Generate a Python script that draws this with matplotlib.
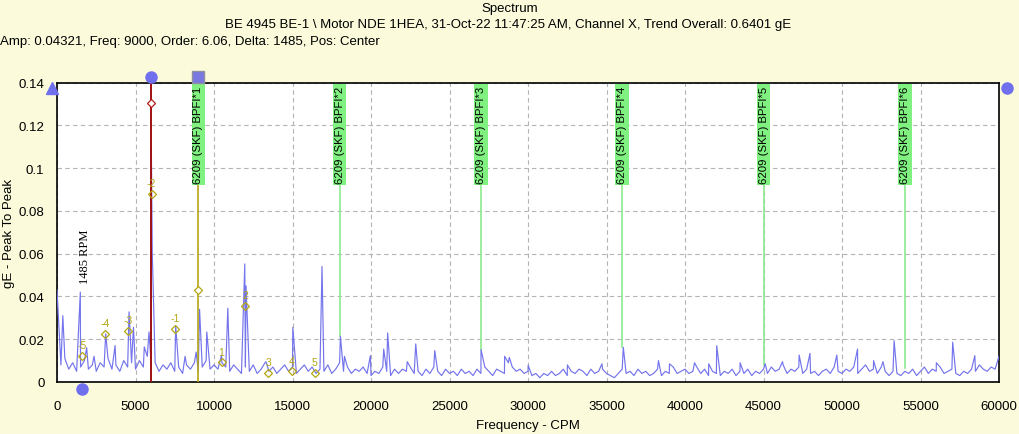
import numpy as np
import matplotlib
matplotlib.use("Agg")
import matplotlib.pyplot as plt

plt.rcParams['font.family'] = ['Liberation Sans', 'DejaVu Sans']

# textos do cabecalho
titulo = "Spectrum"
subtitulo = "BE 4945 BE-1 \\ Motor NDE 1HEA, 31-Oct-22 11:47:25 AM, Channel X, Trend Overall: 0.6401 gE"
cursor_info = "Amp: 0.04321, Freq: 9000, Order: 6.06, Delta: 1485, Pos: Center"

# piso de ruido do espectro, um valor a cada 250 CPM (0 ... 60000)
passo_piso = 250
piso_amp = [
    0.043, 0.008, 0.011, 0.006, 0.009, 0.005, 0.007, 0.010, 0.006, 0.008, 0.005, 0.009, 0.007, 0.011, 0.006, 0.008, 0.005, 0.010, 0.007, 0.009,
    0.006, 0.010, 0.007, 0.012, 0.008, 0.009, 0.005, 0.008, 0.006, 0.009, 0.005, 0.007, 0.004, 0.008, 0.006, 0.009, 0.005, 0.007, 0.010, 0.006,
    0.008, 0.006, 0.009, 0.007, 0.005, 0.008, 0.006, 0.004, 0.007, 0.005, 0.008, 0.004, 0.006, 0.009, 0.005, 0.007, 0.004, 0.006, 0.008, 0.005,
    0.007, 0.004, 0.006, 0.008, 0.005, 0.007, 0.004, 0.006, 0.005, 0.008, 0.004, 0.006, 0.009, 0.005, 0.007, 0.004, 0.006, 0.005, 0.007, 0.004,
    0.003, 0.005, 0.004, 0.007, 0.005, 0.003, 0.006, 0.004, 0.006, 0.005, 0.007, 0.004, 0.005, 0.003, 0.006, 0.004, 0.007, 0.005, 0.003, 0.006,
    0.004, 0.005, 0.003, 0.006, 0.004, 0.005, 0.003, 0.006, 0.004, 0.007, 0.005, 0.003, 0.006, 0.005, 0.004, 0.009, 0.007, 0.005, 0.006, 0.004,
    0.005, 0.003, 0.004, 0.002, 0.004, 0.003, 0.005, 0.003, 0.004, 0.006, 0.003, 0.005, 0.004, 0.006, 0.005, 0.003, 0.006, 0.004, 0.005, 0.006,
    0.004, 0.003, 0.002, 0.004, 0.006, 0.004, 0.005, 0.003, 0.006, 0.004, 0.005, 0.003, 0.004, 0.006, 0.003, 0.005, 0.004, 0.007, 0.004, 0.005,
    0.006, 0.004, 0.005, 0.007, 0.004, 0.006, 0.003, 0.005, 0.004, 0.003, 0.005, 0.004, 0.006, 0.003, 0.005, 0.004, 0.006, 0.003, 0.005, 0.004,
    0.006, 0.004, 0.007, 0.005, 0.006, 0.008, 0.004, 0.006, 0.005, 0.007, 0.004, 0.006, 0.004, 0.005, 0.003, 0.005, 0.006, 0.004, 0.007, 0.005,
    0.004, 0.006, 0.005, 0.007, 0.004, 0.006, 0.008, 0.005, 0.006, 0.004, 0.007, 0.005, 0.003, 0.005, 0.004, 0.003, 0.005, 0.004, 0.006, 0.003,
    0.005, 0.007, 0.004, 0.006, 0.005, 0.007, 0.004, 0.005, 0.006, 0.004, 0.003, 0.005, 0.004, 0.006, 0.005, 0.008, 0.006, 0.005, 0.007, 0.006,
    0.012,
]

# picos (CPM, gE)
pico_freq = [120, 370, 1485, 1890, 2360, 3100, 3700, 4590, 4870, 5560, 5860, 6010, 6070,
             7560, 8160, 8860, 9080, 9540, 10480, 10880, 11960, 12040, 13310, 15020, 16880,
             18050, 18310, 19960, 20810, 21060, 22310, 22850, 24060, 27010, 28510, 28810,
             30010, 32510, 34710, 36070, 38310, 39010, 40610, 41510, 42020, 43510, 45110,
             46210, 47270, 47960, 49670, 50990, 52010, 52610, 53320, 56010, 57050, 58460]
pico_amp = [0.026, 0.031, 0.042, 0.016, 0.012, 0.0225, 0.017, 0.0328, 0.0256, 0.0164, 0.0234, 0.109, 0.060,
            0.0262, 0.012, 0.014, 0.034, 0.0234, 0.0125, 0.0345, 0.0552, 0.045, 0.0095, 0.0255, 0.054,
            0.0214, 0.012, 0.0123, 0.0154, 0.0229, 0.0095, 0.0178, 0.0147, 0.0151, 0.012, 0.0115,
            0.0078, 0.008, 0.0085, 0.0162, 0.010, 0.0085, 0.009, 0.0085, 0.017, 0.009, 0.0085,
            0.0095, 0.0126, 0.0134, 0.0126, 0.0154, 0.010, 0.0095, 0.0193, 0.009, 0.0186, 0.0123]

# bandas laterais de 9000 com delta 1485
banda_rotulo = ["-5", "-4", "-3", "-2", "-1", "1", "2", "3", "4", "5"]
banda_freq = [1575, 3060, 4545, 6030, 7515, 10485, 11970, 13455, 14940, 16425]
banda_amp = [0.0123, 0.0226, 0.024, 0.088, 0.025, 0.0092, 0.0357, 0.0042, 0.0051, 0.0042]

# harmonicas de BPFI do rolamento 6209
bpfi_ordem = [1, 2, 3, 4, 5, 6]
bpfi_freq = [9000, 18000, 27000, 36000, 45000, 54000]
bpfi_amp = [0.043, 0.0214, 0.0151, 0.0162, 0.008, 0.0065]

cursor_vermelho = 6000
cursor_vermelho_amp = 0.1306
cursor_oliva = 9000
cursor_oliva_amp = 0.04321
rpm = 1485

fundo = '#FBFBDC'
azul = '#7474EC'
oliva = '#B4A614'

freq_piso = np.arange(len(piso_amp)) * passo_piso
freq_tudo = np.concatenate([freq_piso, pico_freq])
amp_tudo = np.concatenate([piso_amp, pico_amp])
ordem = np.argsort(freq_tudo, kind='stable')
freq_tudo = freq_tudo[ordem]
amp_tudo = amp_tudo[ordem]

fig = plt.figure(figsize=(10.2, 4.35), dpi=100, facecolor=fundo)
ax = fig.add_axes([57 / 1020, 52 / 435, 942 / 1020, 299.5 / 435])
ax.set_facecolor('white')

ax.set_xlim(0, 60000)
ax.set_ylim(0, 0.14)
ax.set_xticks(np.arange(0, 60001, 5000))
ax.set_yticks(np.arange(0, 0.141, 0.02))
ax.set_yticklabels(["0", "0.02", "0.04", "0.06", "0.08", "0.1", "0.12", "0.14"])
ax.tick_params(length=0, labelsize=9.5)
ax.tick_params(axis='y', pad=9)
ax.tick_params(axis='x', pad=13)
ax.grid(True, color='#B4B4B4', linestyle=(0, (4, 3)), linewidth=0.8)
for s in ax.spines.values():
    s.set_color('black')
    s.set_linewidth(1.2)

ax.set_xlabel("Frequency - CPM", fontsize=9.5)
ax.xaxis.set_label_coords(0.5, -0.125)
ax.set_ylabel("gE - Peak To Peak", fontsize=9.5)
ax.yaxis.set_label_coords(-0.045, 0.5)

# linhas verdes das harmonicas
for n, f, a in zip(bpfi_ordem, bpfi_freq, bpfi_amp):
    if n > 1:
        ax.plot([f, f], [a, 0.095], color='#8CEB8C', linewidth=1.2, zorder=2)
    ax.text(f, 0.1385, "6209 (SKF) BPFI*%d" % n, rotation=90, ha='center', va='top',
            fontsize=8.2, zorder=6,
            bbox=dict(boxstyle='square,pad=0.15', facecolor='#80F080', edgecolor='none'))

ax.plot(freq_tudo, amp_tudo, color=azul, linewidth=0.85, zorder=3)

# cursores
ax.axvline(cursor_vermelho, color='#A01010', linewidth=1.4, zorder=4)
ax.axvline(cursor_oliva, color=oliva, linewidth=1.2, zorder=4)
ax.plot(cursor_vermelho, cursor_vermelho_amp, marker='D', markersize=4, mfc='white',
        mec='#B02020', mew=0.9, zorder=7)
ax.plot(cursor_oliva, cursor_oliva_amp, marker='D', markersize=4, mfc='white',
        mec=oliva, mew=0.9, zorder=7)

for r, f, a in zip(banda_rotulo, banda_freq, banda_amp):
    ax.plot(f, a, marker='D', markersize=4, mfc='none', mec=oliva, mew=0.9, zorder=7)
    ax.annotate(r, (f, a), xytext=(0, 4), textcoords='offset points', ha='center',
                va='bottom', fontsize=7.5, color=oliva, zorder=7)

ax.text(rpm + 300, 0.059, "%d RPM" % rpm, rotation=90, ha='center', va='center',
        fontsize=9, family='Liberation Serif', zorder=6)

# marcadores fora da area do grafico
ax.plot(-330, 0.1375, marker='^', markersize=9, color='#7070EE', clip_on=False, zorder=8)
ax.plot(cursor_vermelho, 0.1428, marker='o', markersize=8, color='#7070EE', clip_on=False, zorder=8)
ax.plot(cursor_oliva, 0.1428, marker='s', markersize=8, mfc='#7878E0', mec='#9090A0',
        clip_on=False, zorder=8)
ax.plot(rpm + 100, -0.0033, marker='o', markersize=8, color='#7070EE', clip_on=False, zorder=8)
ax.plot(60510, 0.1376, marker='o', markersize=8, color='#7070EE', clip_on=False, zorder=8)

fig.text(510 / 1020, 1 - 9 / 435, titulo, ha='center', va='center', fontsize=9.5)
fig.text(508 / 1020, 1 - 25 / 435, subtitulo, ha='center', va='center', fontsize=9.5)
fig.text(0.0, 1 - 42 / 435, cursor_info, ha='left', va='center', fontsize=9.5)

fig.savefig("out.png", dpi=100, facecolor=fundo)
